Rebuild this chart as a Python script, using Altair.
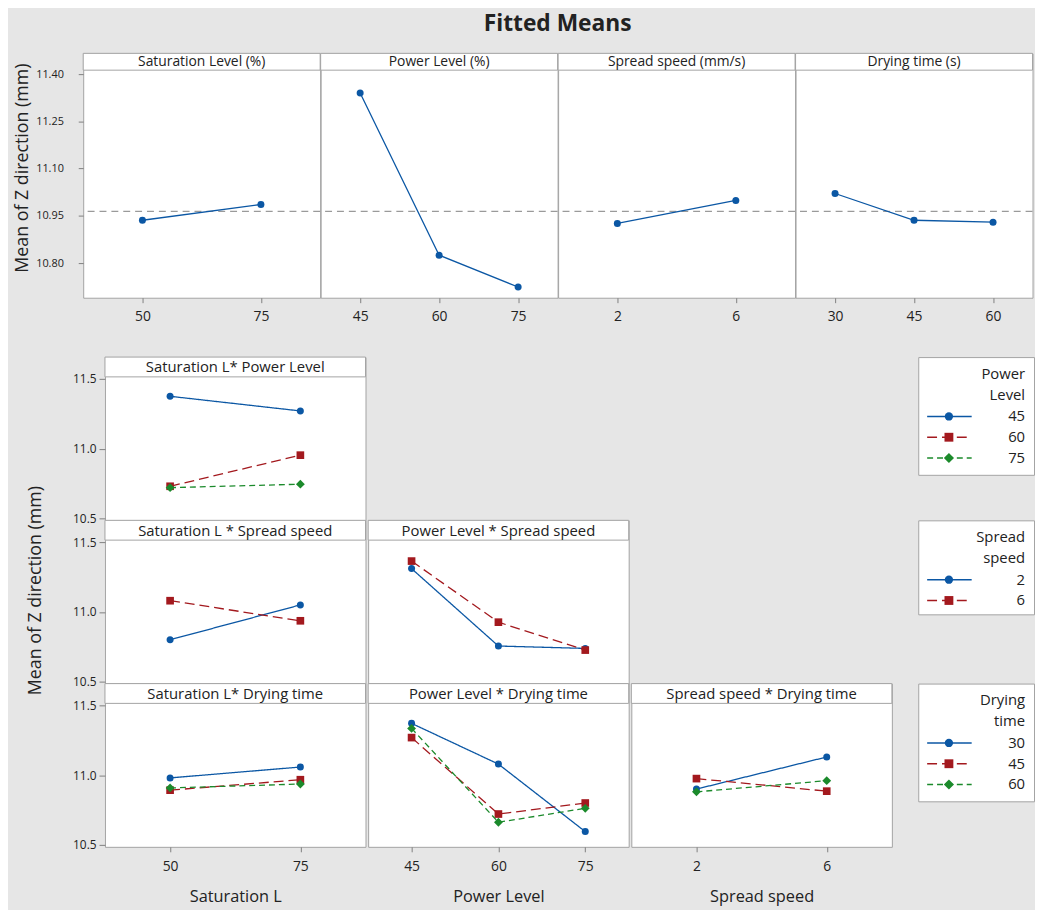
import altair as alt
import pandas as pd

# ------------------------------------------------------------------ data
sat_levels = [50, 75]
pow_levels = [45, 60, 75]
spd_levels = [2, 6]
dry_levels = [30, 45, 60]

# main effects (fitted means)
sat_means = [10.936, 10.986]
pow_means = [11.340, 10.825, 10.724]
spd_means = [10.926, 10.999]
dry_means = [11.021, 10.936, 10.930]
grand_mean = 10.964

# two-way interactions: one list per trace level, values along the x factor
satpow_45 = [11.375, 11.270]
satpow_60 = [10.730, 10.953]
satpow_75 = [10.720, 10.745]

satspd_2 = [10.800, 11.050]
satspd_6 = [11.080, 10.936]

powspd_2 = [11.310, 10.755, 10.738]
powspd_6 = [11.364, 10.926, 10.726]

satdry_30 = [10.980, 11.058]
satdry_45 = [10.892, 10.967]
satdry_60 = [10.908, 10.936]

powdry_30 = [11.371, 11.079, 10.595]
powdry_45 = [11.269, 10.721, 10.800]
powdry_60 = [11.335, 10.662, 10.762]

spddry_30 = [10.900, 11.130]
spddry_45 = [10.975, 10.885]
spddry_60 = [10.880, 10.960]

main_titles = ["Saturation Level (%)", "Power Level (%)", "Spread speed (mm/s)", "Drying time (s)"]
top_y_ticks = [10.80, 10.95, 11.10, 11.25, 11.40]
bot_y_ticks = [10.5, 11.0, 11.5]
y_title = "Mean of Z direction (mm)"

# ------------------------------------------------------------------ style
FONT = "Open Sans"
BG = "#e6e6e6"
BORDER = "#a3a3a3"
TXT = "#222222"
REF = "#9a9a9a"
BLUE = "#0b57a4"
RED = "#a3191e"
GREEN = "#1b8a2b"
COLORS = [BLUE, RED, GREEN]
DASHES = [[1, 0], [10, 5], [6, 4]]
SHAPES = ["circle", "square", "diamond"]
SIZES = [50, 60, 80]

W_TOP, TOP_HDR, TOP_H = 239.5, 17, 247
TOP_DOMAIN = [10.690, 11.4126]
W_BOT, BOT_HDR, BOT_H = 790 / 3, 20, 165
BOT_DOMAIN = [10.4858, 11.5142]
LEG_W = 117

ONE = alt.Data(values=[{"a": 1}])
CLEAR = alt.ViewBackground(fill="transparent", stroke="transparent")


def header_layers(w, h, text, fs):
    box = alt.Chart(ONE).mark_rect(fill="white", stroke=BORDER, strokeWidth=1).encode(
        x=alt.value(0), x2=alt.value(w), y=alt.value(0), y2=alt.value(h))
    txt = alt.Chart(ONE).mark_text(text=text, fontSize=fs, color=TXT, baseline="middle",
                                   align="center").encode(x=alt.value(w / 2), y=alt.value(h / 2 + 0.5))
    return [box, txt]


def blank(w, h):
    return alt.Chart(ONE).mark_rect(opacity=0).encode(
        x=alt.value(0), x2=alt.value(w), y=alt.value(0), y2=alt.value(h))


def spacer(w, h):
    return blank(w, h).properties(width=w, height=h, view=CLEAR)


def title_unit(w, h, cx, cy, fs):
    txt = alt.Chart(ONE).mark_text(text=y_title, angle=270, fontSize=fs, color=TXT, align="center",
                                   baseline="middle").encode(x=alt.value(cx), y=alt.value(cy))
    return alt.layer(blank(w, h), txt).properties(width=w, height=h, view=CLEAR)


def main_panel(levels, means, header, first):
    df = pd.DataFrame({"lvl": levels, "mean": means})
    yscale = alt.Scale(domain=TOP_DOMAIN, range=[TOP_H, TOP_HDR], nice=False, zero=False)
    if first:
        yaxis = alt.Axis(values=top_y_ticks, format=".2f", title=None, labelFontSize=11,
                         tickSize=5, labelPadding=15)
    else:
        yaxis = None
    x = alt.X("lvl:O", scale=alt.Scale(type="point", domain=levels, padding=0.5),
              axis=alt.Axis(title=None, labelAngle=0, labelFontSize=14, tickSize=5, labelPadding=7))
    y = alt.Y("mean:Q", scale=yscale, axis=yaxis)
    ref = alt.Chart(pd.DataFrame({"mean": [grand_mean]})).mark_rule(
        color=REF, strokeDash=[7, 5], strokeWidth=1.2).encode(y=y)
    line = alt.Chart(df).mark_line(color=BLUE, strokeWidth=1.3).encode(x=x, y=y)
    pts = alt.Chart(df).mark_point(filled=True, opacity=1, size=50, color=BLUE, shape="circle").encode(
        x=x, y=y)
    return alt.layer(ref, line, pts, *header_layers(W_TOP, TOP_HDR, header, 14)).properties(
        width=W_TOP, height=TOP_H)


def inter_panel(xlevels, traces, header, yaxis_on=False, xtitle=None):
    yscale = alt.Scale(domain=BOT_DOMAIN, range=[BOT_H, BOT_HDR], nice=False, zero=False)
    if yaxis_on:
        yaxis = alt.Axis(values=bot_y_ticks, format=".1f", labelFontSize=12, tickSize=6, labelPadding=3,
                         title=None)
    else:
        yaxis = None
    if xtitle is None:
        xaxis = None
    else:
        xaxis = alt.Axis(title=xtitle, labelAngle=0, labelFontSize=14, titleFontSize=16.5,
                         tickSize=5, labelPadding=8, titlePadding=15)
    x = alt.X("lvl:O", scale=alt.Scale(type="point", domain=xlevels, padding=0.5), axis=xaxis)
    y = alt.Y("val:Q", scale=yscale, axis=yaxis)
    layers = []
    for i, vals in enumerate(traces):
        b = alt.Chart(pd.DataFrame({"lvl": xlevels, "val": vals}))
        layers.append(b.mark_line(color=COLORS[i], strokeDash=DASHES[i], strokeWidth=1.3).encode(x=x, y=y))
        layers.append(b.mark_point(filled=True, opacity=1, color=COLORS[i], shape=SHAPES[i],
                                   size=SIZES[i]).encode(x=x, y=y))
    return alt.layer(*layers, *header_layers(W_BOT, BOT_HDR, header, 15)).properties(
        width=W_BOT, height=BOT_H)


def legend_chart(title_lines, tlevels, box_h):
    layers = []
    for i, lv in enumerate(tlevels):
        yy = 60 + 21 * i
        layers.append(alt.Chart(ONE).mark_rule(color=COLORS[i], strokeDash=DASHES[i], strokeWidth=1.6).encode(
            x=alt.value(9), x2=alt.value(54), y=alt.value(yy)))
        layers.append(alt.Chart(ONE).mark_point(filled=True, opacity=1, color=COLORS[i], shape=SHAPES[i],
                                                size=[70, 80, 105][i]).encode(x=alt.value(31), y=alt.value(yy)))
        layers.append(alt.Chart(ONE).mark_text(text=str(lv), align="right", baseline="middle", fontSize=15,
                                               color=TXT).encode(x=alt.value(108), y=alt.value(yy)))
    layers.append(alt.Chart(ONE).mark_text(text=title_lines, align="right", baseline="middle", fontSize=15,
                                           lineHeight=21, color=TXT).encode(x=alt.value(108), y=alt.value(17)))
    return alt.layer(*layers).properties(width=LEG_W, height=box_h)


# ------------------------------------------------------------------ layout
top_row = alt.hconcat(
    title_unit(70, TOP_H, 9, 116, 18),
    main_panel(sat_levels, sat_means, main_titles[0], True),
    main_panel(pow_levels, pow_means, main_titles[1], False),
    main_panel(spd_levels, spd_means, main_titles[2], False),
    main_panel(dry_levels, dry_means, main_titles[3], False),
    spacing=0, bounds="flush")

col1 = alt.vconcat(
    inter_panel(sat_levels, [satpow_45, satpow_60, satpow_75], "Saturation L* Power Level", yaxis_on=True),
    inter_panel(sat_levels, [satspd_2, satspd_6], "Saturation L * Spread speed", yaxis_on=True),
    inter_panel(sat_levels, [satdry_30, satdry_45, satdry_60], "Saturation L* Drying time",
                yaxis_on=True, xtitle="Saturation L"),
    spacing=0, bounds="flush")
col2 = alt.vconcat(
    spacer(W_BOT, BOT_H),
    inter_panel(pow_levels, [powspd_2, powspd_6], "Power Level * Spread speed"),
    inter_panel(pow_levels, [powdry_30, powdry_45, powdry_60], "Power Level * Drying time",
                xtitle="Power Level"),
    spacing=0, bounds="flush")
col3 = alt.vconcat(
    spacer(W_BOT, 2 * BOT_H),
    inter_panel(spd_levels, [spddry_30, spddry_45, spddry_60], "Spread speed * Drying time",
                xtitle="Spread speed"),
    spacing=0, bounds="flush")
grid = alt.hconcat(col1, col2, col3, spacing=0)

legends = alt.vconcat(
    legend_chart(["Power", "Level"], pow_levels, 119),
    spacer(LEG_W, 46),
    legend_chart(["Spread", "speed"], spd_levels, 95),
    spacer(LEG_W, 70),
    legend_chart(["Drying", "time"], dry_levels, 119),
    spacing=0, bounds="flush")

bottom_left = alt.hconcat(title_unit(57.4, 3 * BOT_H, 22, 236, 18), grid, spacing=0)
bottom = alt.hconcat(bottom_left, legends, spacing=24)

chart = alt.vconcat(
    top_row, bottom, spacing=32,
    title=alt.Title("Fitted Means", fontSize=23, fontWeight="bold", anchor="middle", offset=17, dx=34,
                    color=TXT, font=FONT),
).properties(
    padding={"left": 5, "top": 0, "right": 0, "bottom": 0}
).configure(
    background=BG, font=FONT
).configure_view(
    fill="white", stroke=BORDER, strokeWidth=1
).configure_axis(
    domain=False, grid=False, tickColor="#808080", labelColor=TXT, titleColor=TXT,
    titleFontWeight="normal", labelFont=FONT, titleFont=FONT
)

chart.save("out.html", embed_options={"renderer": "svg", "actions": False})
